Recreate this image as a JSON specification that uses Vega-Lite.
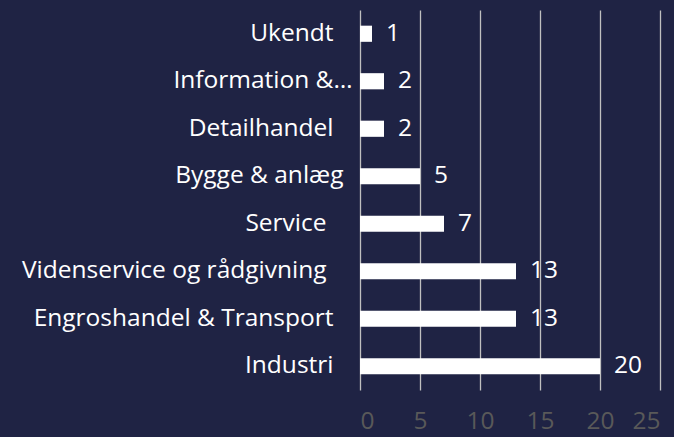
{
  "$schema": "https://vega.github.io/schema/vega-lite/v6.json",
  "width": 300,
  "height": 380,
  "autosize": "none",
  "padding": {"left": 360, "top": 10, "right": 14, "bottom": 47},
  "background": "#1f2344",
  "config": {"view": {"stroke": null}, "font": "Open Sans"},
  "data": {"values": [
    {"branche": "Ukendt", "antal": 1},
    {"branche": "Information &…", "antal": 2},
    {"branche": "Detailhandel", "antal": 2},
    {"branche": "Bygge & anlæg", "antal": 5},
    {"branche": "Service", "antal": 7},
    {"branche": "Videnservice og rådgivning", "antal": 13},
    {"branche": "Engroshandel & Transport", "antal": 13},
    {"branche": "Industri", "antal": 20}
  ]},
  "encoding": {
    "y": {"field": "branche", "type": "nominal", "sort": null,
      "scale": {"paddingInner": 0.66, "paddingOuter": 0.33},
      "axis": {"title": null, "domain": false, "ticks": false, "labelColor": "#ffffff", "labelFontSize": 24.5, "labelLimit": 400, "grid": false,
        "labelPadding": {"condition": [
          {"test": "datum.value == 'Information &…'", "value": 8},
          {"test": "datum.value == 'Bygge & anlæg'", "value": 17},
          {"test": "datum.value == 'Service' || datum.value == 'Videnservice og rådgivning'", "value": 34}
        ], "value": 27}}},
    "x": {"field": "antal", "type": "quantitative",
      "scale": {"domain": [0, 25]},
      "axis": {"title": null, "values": [0,5,10,15,20,25], "domain": false, "ticks": false, "grid": true, "gridColor": "#c0c0c0", "gridWidth": 1.3, "labelColor": "#595959", "labelFontSize": 24.5, "labelPadding": 19}}
  },
  "layer": [
    {"mark": {"type": "bar", "color": "#ffffff"}},
    {"mark": {"type": "text", "align": "left", "dx": 14, "color": "#ffffff", "fontSize": 24.5}, "encoding": {"text": {"field": "antal"}}}
  ]
}
